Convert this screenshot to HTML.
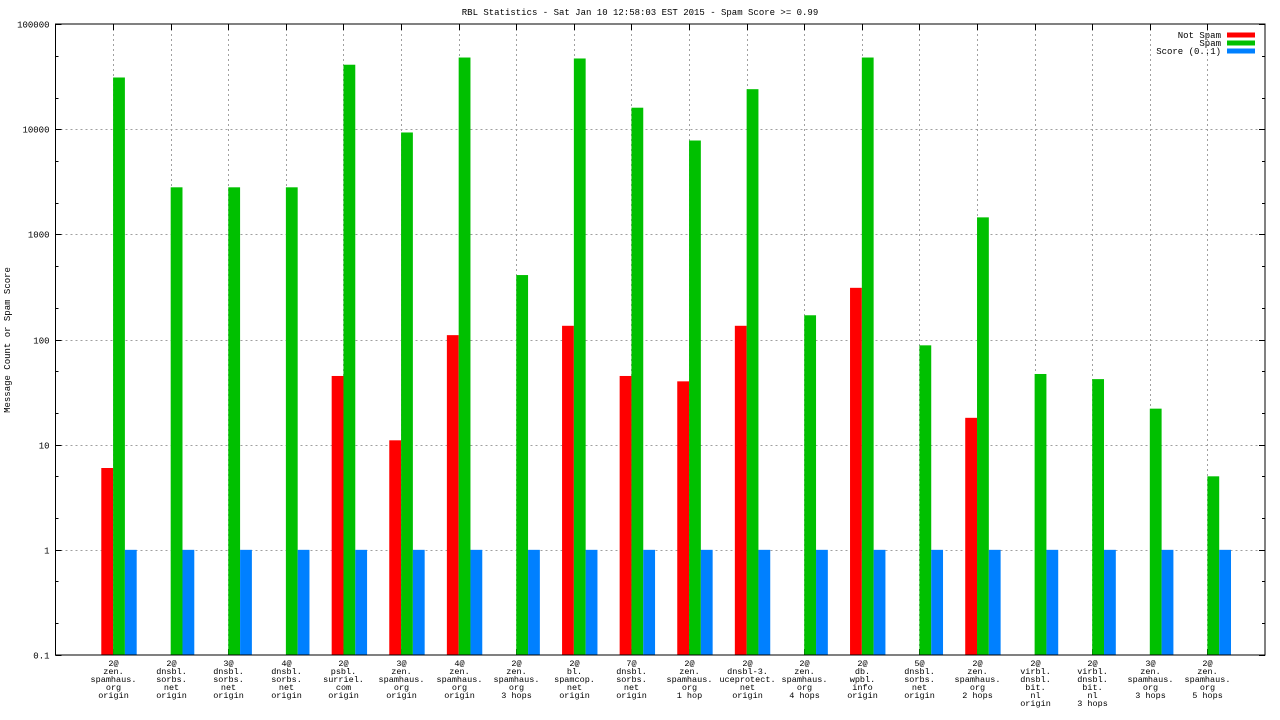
<!DOCTYPE html>
<html><head><meta charset="utf-8"><style>
html,body{margin:0;padding:0;background:#fff;}
svg{display:block;font-family:"Liberation Mono","DejaVu Sans Mono",monospace;}
</style></head><body>
<svg id="chart" width="1280" height="720" xmlns="http://www.w3.org/2000/svg">
<text x="640" y="15" font-size="9" text-anchor="middle">RBL Statistics - Sat Jan 10 12:58:03 EST 2015 - Spam Score &gt;= 0.99</text>
<text x="0" y="0" font-size="9" text-anchor="middle" transform="translate(10,340) rotate(-90)">Message Count or Spam Score</text>
</svg>
<script>
const categories = [
 ["2@","zen.","spamhaus.","org","origin"],
 ["2@","dnsbl.","sorbs.","net","origin"],
 ["3@","dnsbl.","sorbs.","net","origin"],
 ["4@","dnsbl.","sorbs.","net","origin"],
 ["2@","psbl.","surriel.","com","origin"],
 ["3@","zen.","spamhaus.","org","origin"],
 ["4@","zen.","spamhaus.","org","origin"],
 ["2@","zen.","spamhaus.","org","3 hops"],
 ["2@","bl.","spamcop.","net","origin"],
 ["7@","dnsbl.","sorbs.","net","origin"],
 ["2@","zen.","spamhaus.","org","1 hop"],
 ["2@","dnsbl-3.","uceprotect.","net","origin"],
 ["2@","zen.","spamhaus.","org","4 hops"],
 ["2@","db.","wpbl.","info","origin"],
 ["5@","dnsbl.","sorbs.","net","origin"],
 ["2@","zen.","spamhaus.","org","2 hops"],
 ["2@","virbl.","dnsbl.","bit.","nl","origin"],
 ["2@","virbl.","dnsbl.","bit.","nl","3 hops"],
 ["3@","zen.","spamhaus.","org","3 hops"],
 ["2@","zen.","spamhaus.","org","5 hops"]
];
const notSpam = [6,0,0,0,45,11,110,0,135,45,40,135,0,310,0,18,0,0,0,0];
const spam = [31000,2800,2800,2800,41000,9300,48000,410,47000,16000,7800,24000,170,48000,88,1450,47,42,22,5];
const score = [1,1,1,1,1,1,1,1,1,1,1,1,1,1,1,1,1,1,1,1];
const yTickValues = [0.1,1,10,100,1000,10000,100000];
const yTickLabels = ["0.1","1","10","100","1000","10000","100000"];
const legendLabels = ["Not Spam","Spam","Score (0..1)"];

const svg = document.getElementById('chart');
const NS = 'http://www.w3.org/2000/svg';
const L=55.5, R=1265, T=24, B=655;
const yMin=-1, yMax=5;
function y(v){ return B - (Math.log10(v)-yMin)/(yMax-yMin)*(B-T); }
const slot=(R-L)/(categories.length+1);
function x(i){ return L + (i+1)*slot; }
function mk(tag, attrs){ const e=document.createElementNS(NS,tag); for(const k in attrs) e.setAttribute(k,attrs[k]); svg.appendChild(e); return e; }

// grid
yTickValues.forEach((v,i)=>{
  const yy=Math.round(y(v))+0.5;
  if(i>0 && i<yTickValues.length-1){
    const g=mk('line',{x1:L,x2:R,y1:yy,y2:yy,stroke:'#a0a0a0','stroke-dasharray':'2,3'});
    
    
  }
  const t=mk('text',{x:L-6,y:yy+3,'font-size':9,'text-anchor':'end'});
  
  
  t.textContent=yTickLabels[i];
  [[L,L+6],[R-6,R]].forEach(p=>{
    const tk=mk('line',{x1:p[0],x2:p[1],y1:yy,y2:yy,stroke:'#000'});
    
    
  });
  if(i<yTickValues.length-1){
    [2,5].forEach(m=>{
      const my=Math.round(y(v*m))+0.5;
      [[L,L+3],[R-3,R]].forEach(p=>{
        const tk=mk('line',{x1:p[0],x2:p[1],y1:my,y2:my,stroke:'#000'});
        
        
      });
    });
  }
});
categories.forEach((c,i)=>{
  const xx=Math.round(x(i))+0.5;
  const g=mk('line',{x1:xx,x2:xx,y1:T,y2:B,stroke:'#a0a0a0','stroke-dasharray':'2,3'});
  
  
  [[T,T+6],[B-6,B]].forEach(p=>{
    const tk=mk('line',{x1:xx,x2:xx,y1:p[0],y2:p[1],stroke:'#000'});
    
    
  });
  c.forEach((line,j)=>{
    const t=mk('text',{x:xx,y:666+j*8,'font-size':8.5,'text-anchor':'middle'});
    
    
    t.textContent=line;
  });
});
// bars
const bw=11.8;
const series=[[notSpam,'#ff0000',-1,'bar-not-spam'],[spam,'#00c000',0,'bar-spam'],[score,'#0080ff',1,'bar-score']];
series.forEach(s=>{
  s[0].forEach((v,i)=>{
    if(!(v>0)) return;
    const x0=x(i)+s[2]*bw;
    const top=y(v);
    const r=mk('rect',{x:x0,y:top,width:bw,height:B-top,fill:s[1]});
    
    
  });
});
// frame
const fr=mk('rect',{x:L,y:T,width:R-L,height:B-T,fill:'none',stroke:'#000'});


// legend
const legColors=['#ff0000','#00c000','#0080ff'];
legendLabels.forEach((lab,i)=>{
  const ly=35+i*8;
  const t=mk('text',{x:1221,y:ly+3,'font-size':9,'text-anchor':'end'});
  
  
  t.textContent=lab;
  const r=mk('rect',{x:1227,y:ly-2.5,width:28,height:5,fill:legColors[i]});
  
  
});
</script>
</body></html>
